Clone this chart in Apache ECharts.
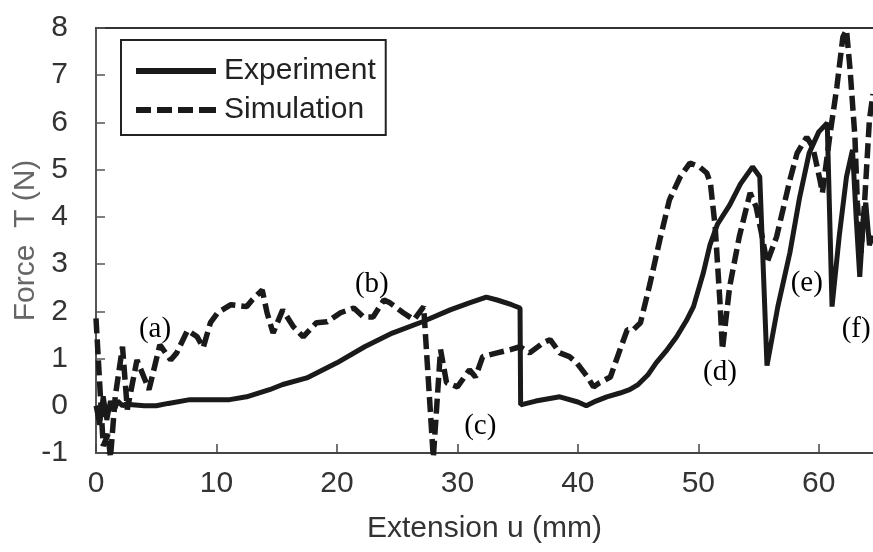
<!DOCTYPE html>
<html>
<head>
<meta charset="utf-8">
<script src="https://cdn.jsdelivr.net/npm/echarts@6/dist/echarts.min.js"></script>
<style>
html,body{margin:0;padding:0;background:#fff;}
#chart{width:873px;height:552px;}
</style>
</head>
<body>
<div id="chart"></div>
<script>
// Experiment (solid) : extension u (mm) and force T (N)
var expU = [0, 0.3, 0.6, 0.9, 1.2, 1.5, 1.8, 2.2, 2.6, 3, 4, 5, 6, 7.8, 10, 11.1, 12.5, 14.4, 15.5, 17.5, 20, 22.3, 24.6, 27.1, 29.4, 31, 32.4, 33.3, 34.5, 35.2, 35.25, 36.5, 38.5, 40, 40.7, 41.5, 42.4, 43.5, 44.3, 45, 45.8, 46.5, 47.3, 48.2, 49, 49.6, 50.4, 50.96, 51.6, 52.6, 53.5, 54.5, 55.1, 55.7, 56.6, 57.6, 58.4, 59.2, 60, 60.7, 61.1, 61.7, 62.3, 62.8, 63.1, 63.4, 63.7, 63.9, 64.2, 64.5];
var expT = [0.0, -0.4, 0.2, -0.3, 0.1, -0.1, 0.1, 0.0, 0.05, 0.02, 0.0, 0.0, 0.05, 0.13, 0.13, 0.13, 0.19, 0.34, 0.45, 0.59, 0.91, 1.25, 1.54, 1.78, 2.03, 2.18, 2.3, 2.24, 2.14, 2.07, 0.02, 0.1, 0.19, 0.08, 0.0, 0.1, 0.19, 0.27, 0.34, 0.45, 0.65, 0.91, 1.15, 1.46, 1.8, 2.1, 2.8, 3.4, 3.85, 4.25, 4.7, 5.06, 4.85, 0.85, 2.1, 3.24, 4.4, 5.35, 5.8, 5.99, 2.1, 3.6, 4.85, 5.42, 4.0, 2.73, 3.94, 4.3, 3.4, 3.6];

// Simulation (dashed)
var simU = [0, 0.3, 0.6, 1.0, 1.2, 1.6, 2.2, 2.6, 3.4, 4.4, 5.3, 6.2, 6.7, 7.6, 8.4, 8.9, 9.5, 10.1, 11.2, 12.5, 13.0, 13.8, 14.2, 14.7, 15.5, 16.4, 17.2, 18.3, 19.2, 20.3, 21.4, 22.2, 23.0, 23.9, 24.4, 25.5, 26.4, 27.2, 28.0, 28.6, 29.1, 30.0, 31.0, 31.5, 32.1, 33.3, 34.4, 35.2, 36.0, 37.1, 37.7, 38.5, 39.3, 39.9, 40.8, 41.3, 41.8, 42.7, 43.5, 44.1, 44.6, 45.2, 46.0, 46.8, 47.6, 48.5, 49.3, 50.1, 50.7, 51.0, 51.4, 51.8, 52.0, 52.6, 53.4, 54.3, 54.8, 55.3, 55.7, 56.5, 57.6, 58.2, 59.0, 59.5, 60.1, 60.3, 60.9, 61.5, 62.0, 62.3, 62.6, 63.0, 63.2, 63.5, 63.8, 64.2, 64.5];
var simT = [1.85, 0.5, -0.85, -0.6, -1.1, 0.2, 1.25, -0.08, 0.97, 0.34, 1.29, 0.97, 1.12, 1.6, 1.46, 1.23, 1.76, 1.97, 2.14, 2.1, 2.25, 2.45, 1.97, 1.54, 2.03, 1.67, 1.46, 1.76, 1.78, 1.97, 2.07, 1.88, 1.88, 2.24, 2.18, 1.97, 1.82, 2.1, -1.1, 1.19, 0.49, 0.4, 0.76, 0.61, 1.04, 1.12, 1.19, 1.25, 1.12, 1.33, 1.4, 1.12, 1.04, 0.91, 0.61, 0.4, 0.49, 0.61, 1.19, 1.61, 1.61, 1.76, 2.6, 3.51, 4.36, 4.85, 5.14, 5.06, 4.93, 4.72, 3.79, 2.18, 1.19, 2.52, 3.58, 4.51, 4.21, 3.58, 3.03, 3.58, 4.78, 5.35, 5.69, 5.48, 4.78, 4.51, 5.69, 6.75, 7.81, 7.96, 7.11, 5.69, 4.3, 3.24, 4.3, 6.05, 6.6];

// Stage annotations (label, u, T)
var noteLabels = ['(a)', '(b)', '(c)', '(d)', '(e)', '(f)'];
var noteU = [4.9, 22.9, 31.9, 51.8, 59.0, 63.1];
var noteT = [1.61, 2.56, -0.44, 0.7, 2.6, 1.61];

var xTicks = [0, 10, 20, 30, 40, 50, 60];
var yTicks = [-1, 0, 1, 2, 3, 4, 5, 6, 7, 8];

function zip(a, b) { return a.map(function (v, i) { return [v, b[i]]; }); }

var chart = echarts.init(document.getElementById('chart'), null, { renderer: 'canvas' });
var FONT = 'Liberation Sans';
var option = {
  animation: false,
  backgroundColor: '#fff',
  grid: { left: 96, top: 28, right: 0, bottom: 99, containLabel: false, outerBoundsMode: 'none' },
  legend: {
    data: [
      { name: 'Experiment', icon: 'path://M0,0H80V6H0Z' },
      { name: 'Simulation', icon: 'path://M0,0H15V6H0Z M21,0H36V6H21Z M42,0H57V6H42Z M63,0H80V6H63Z' }
    ],
    orient: 'vertical',
    left: 121, top: 40,
    backgroundColor: '#fff',
    borderColor: '#222', borderWidth: 2, borderRadius: 0,
    padding: [16, 10, 10, 15],
    itemWidth: 80, itemHeight: 6, itemGap: 9,
    itemStyle: { color: '#1a1a1a', borderWidth: 0 },
    textStyle: { fontFamily: FONT, fontSize: 30, color: '#222', padding: [0, 0, 0, 3] }
  },
  xAxis: [{
    type: 'value', min: 0, max: 64.5, interval: 10,
    name: 'Extension u (mm)', nameLocation: 'middle', nameGap: 61, nameMoveOverlap: false,
    nameTextStyle: { fontFamily: FONT, fontSize: 30, color: '#333' },
    axisLine: { show: true, onZero: false, lineStyle: { color: '#444', width: 2 } },
    axisTick: { show: true, inside: true, length: 9, lineStyle: { color: '#444', width: 1.5 } },
    axisLabel: { fontFamily: FONT, fontSize: 30, color: '#333', margin: 16, showMaxLabel: false,
      formatter: function (v) { return xTicks.indexOf(v) >= 0 ? String(v) : ''; } },
    splitLine: { show: false }
  }, {
    type: 'value', position: 'top', min: 0, max: 64.5,
    axisLine: { show: true, onZero: false, lineStyle: { color: '#333', width: 2 } },
    axisTick: { show: false }, axisLabel: { show: false }, splitLine: { show: false }
  }],
  yAxis: {
    type: 'value', min: -1, max: 8, interval: 1,
    name: 'Force  T (N)', nameLocation: 'middle', nameGap: 55, nameRotate: 90, nameMoveOverlap: false,
    nameTextStyle: { fontFamily: FONT, fontSize: 30, color: '#666' },
    axisLine: { show: true, onZero: false, lineStyle: { color: '#555', width: 2 } },
    axisTick: { show: true, inside: true, length: 9, lineStyle: { color: '#555', width: 1.5 } },
    axisLabel: { fontFamily: FONT, fontSize: 30, color: '#333', margin: 28,
      formatter: function (v) { return yTicks.indexOf(v) >= 0 ? String(v) : ''; } },
    splitLine: { show: false }
  },
  series: [{
    name: 'Experiment', type: 'line', symbol: 'none', smooth: false,
    data: zip(expU, expT),
    lineStyle: { color: '#1a1a1a', width: 5, type: 'solid' },
    itemStyle: { color: '#1a1a1a' }, z: 3
  }, {
    name: 'Simulation', type: 'line', symbol: 'none', smooth: false,
    data: zip(simU, simT),
    lineStyle: { color: '#1a1a1a', width: 5.5, type: [15, 6] },
    itemStyle: { color: '#1a1a1a' }, z: 2
  }, {
    name: 'notes', type: 'scatter', symbolSize: 0, silent: true,
    itemStyle: { color: '#000', opacity: 1 },
    data: noteLabels.map(function (l, i) { return { value: [noteU[i], noteT[i]], name: l }; }),
    label: { show: true, position: 'inside', formatter: function (p) { return p.name; },
      fontFamily: 'Liberation Serif', fontSize: 29, color: '#000', opacity: 1 },
    emphasis: { disabled: true },
    z: 5
  }]
};
chart.setOption(option);
</script>
</body>
</html>
